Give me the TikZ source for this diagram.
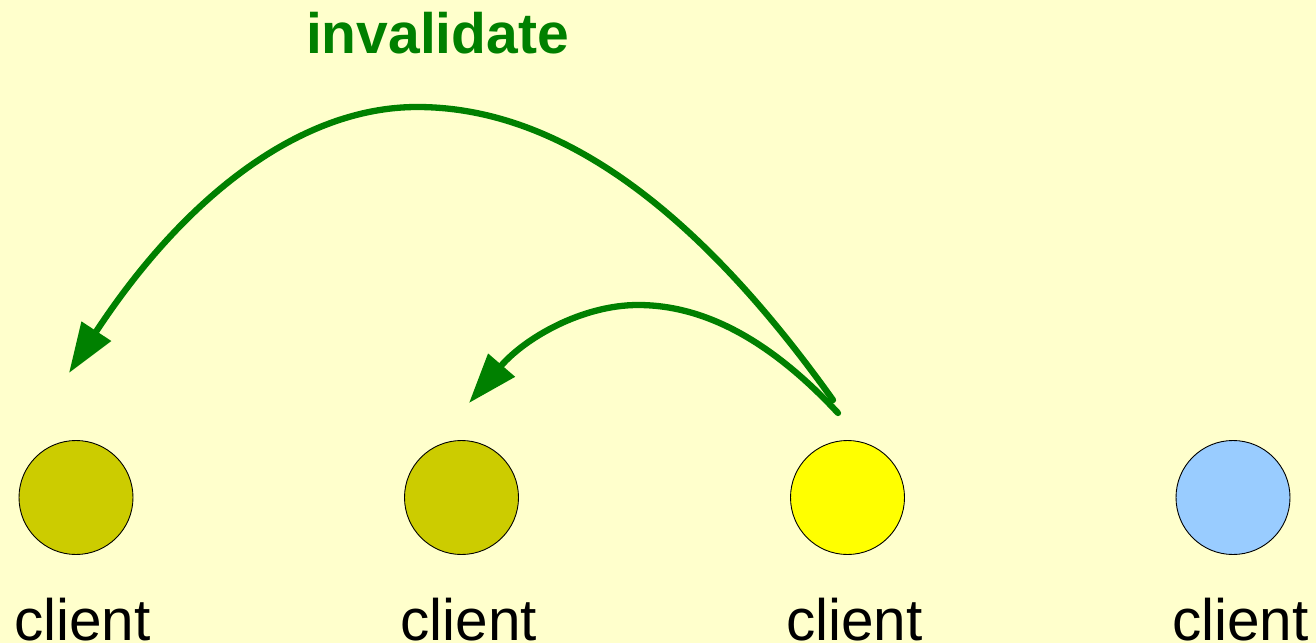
\documentclass[tikz,border=0pt]{standalone}
\usepackage{fontspec}
\setmainfont{Liberation Sans}
\usetikzlibrary{arrows.meta}
\definecolor{bgyellow}{HTML}{FFFFCC}
\definecolor{olivefill}{HTML}{CCCC00}
\definecolor{brightfill}{HTML}{FFFF00}
\definecolor{bluefill}{HTML}{99CCFF}
\definecolor{arrowgreen}{HTML}{008000}
\tikzset{
  client/.style={circle, draw=black, line width=0.9pt, minimum size=114pt, inner sep=0pt},
  clientlabel/.style={anchor=base, inner sep=0pt, font=\fontsize{58.5pt}{60pt}\selectfont},
  inval/.style={draw=arrowgreen, line width=6.3pt, line cap=round,
    -{Triangle[length=50pt, width=34pt]}, arrowgreen},
  invallabel/.style={anchor=base, inner sep=0pt, text=arrowgreen,
    font=\fontsize{57pt}{60pt}\selectfont\bfseries}
}
\begin{document}
\begin{tikzpicture}[x=1pt, y=-1pt]
\fill[bgyellow] (0,0) rectangle (1316,643);
\useasboundingbox (0,0) rectangle (1316,643);

\node[client, fill=olivefill] (c1) at (76,497.5) {};
\node[client, fill=olivefill] (c2) at (461.5,497.5) {};
\node[client, fill=brightfill] (c3) at (847.5,497.5) {};
\node[client, fill=bluefill] (c4) at (1233,497.5) {};

\node[clientlabel] (l1) at (82.5,640) {client};
\node[clientlabel] (l2) at (469,640) {client};
\node[clientlabel] (l3) at (854.5,640) {client};
\node[clientlabel] (l4) at (1240.5,640) {client};

\node[invallabel] (inv) at (437.5,53) {invalidate};

\coordinate (bigstart) at (833,400);
\coordinate (bigpeak) at (417,107);
\coordinate (bigtip) at (69,373);
\coordinate (smallstart) at (838,413);
\coordinate (smallpeak) at (638,305);
\coordinate (smalltip) at (469,403);

\draw[inval] (bigstart) .. controls (694,205) and (556,107) .. (bigpeak)
  .. controls (301,107) and (185,196) .. (bigtip);
\draw[inval] (smallstart) .. controls (771,341) and (705,305) .. (smallpeak)
  .. controls (582,305) and (525,338) .. (smalltip);
\end{tikzpicture}
\end{document}
